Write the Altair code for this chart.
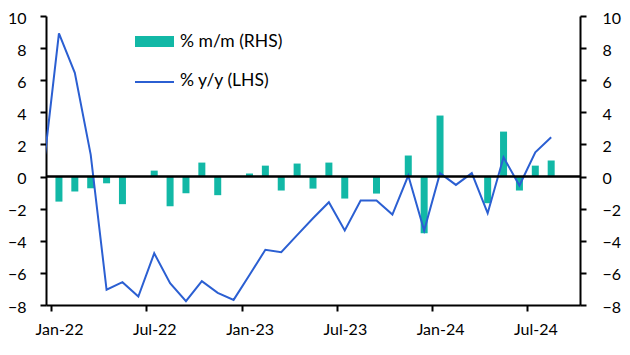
import altair as alt
import pandas as pd

months = ["Jan-22","Feb-22","Mar-22","Apr-22","May-22","Jun-22","Jul-22","Aug-22","Sep-22","Oct-22","Nov-22","Dec-22",
          "Jan-23","Feb-23","Mar-23","Apr-23","May-23","Jun-23","Jul-23","Aug-23","Sep-23","Oct-23","Nov-23","Dec-23",
          "Jan-24","Feb-24","Mar-24","Apr-24","May-24","Jun-24","Jul-24","Aug-24"]
mm = [-1.56, -0.93, -0.73, -0.42, -1.72, 0.0, 0.37, -1.85, -1.04, 0.87, -1.16, 0.0,
      0.19, 0.68, -0.87, 0.81, -0.75, 0.87, -1.37, 0.0, -1.06, 0.0, 1.31, -3.53,
      3.8, 0.0, 0.0, -1.66, 2.8, -0.87, 0.68, 1.0]
yy_prev = 0.3  # Dec-21
yy = [8.92, 6.46, 1.37, -7.05, -6.58, -7.47, -4.78, -6.64, -7.76, -6.52, -7.24, -7.68,
      -6.13, -4.56, -4.71, -3.65, -2.6, -1.6, -3.36, -1.49, -1.49, -2.37, 0.06, -3.36,
      0.21, -0.52, 0.21, -2.28, 1.2, -0.56, 1.51, 2.45]
tick_labels = ["Jan-22", "Jul-22", "Jan-23", "Jul-23", "Jan-24", "Jul-24"]

TEAL = "#12B8A6"
BLUE = "#2B5FD2"
FONT = "Lato"

bars_df = pd.DataFrame({"month": months, "pos": [i + 0.5 for i in range(len(months))], "mm": mm})
line_df = pd.DataFrame({"month": ["Dec-21"] + months,
                        "pos": [-0.5] + [i + 0.5 for i in range(len(months))],
                        "yy": [yy_prev] + yy})

label_arr = "[" + ",".join("'" + t + "'" for t in tick_labels) + "]"
xscale = alt.Scale(domain=[0, 33], nice=False, zero=False)
xaxis = alt.Axis(values=[0, 6, 12, 18, 24, 30], labelExpr=label_arr + "[datum.value/6]",
                 domain=True, ticks=True, grid=False, domainColor="black", domainWidth=2,
                 tickColor="black", tickWidth=2, tickSize=6, labelFontSize=16, labelPadding=10,
                 labelOffset=8, labelFont=FONT, labelColor="black", title=None)
yscale = alt.Scale(domain=[-8, 10], nice=False, zero=False)

def yaxis(orient, pad):
    return alt.Axis(orient=orient, values=list(range(-8, 11, 2)), domain=True, ticks=True,
                    grid=False, domainColor="black", domainWidth=2, tickColor="black",
                    tickWidth=2, tickSize=6, labelFontSize=16, labelPadding=pad,
                    labelOffset=2, labelFont=FONT, labelColor="black", title=None)

bars = alt.Chart(bars_df).mark_bar(size=7, color=TEAL).encode(
    x=alt.X("pos:Q", scale=xscale, axis=xaxis),
    y=alt.Y("mm:Q", scale=yscale, axis=yaxis("right", 16)),
)

line = alt.Chart(line_df).mark_line(color=BLUE, strokeWidth=2, clip=True).encode(
    x=alt.X("pos:Q", scale=xscale, axis=xaxis),
    y=alt.Y("yy:Q", scale=yscale, axis=yaxis("left", 14)),
)

zero = alt.Chart(pd.DataFrame({"z": [0]})).mark_rule(color="black", strokeWidth=2.5).encode(
    y=alt.Y("z:Q", scale=yscale, axis=None),
)

leg_bar = alt.Chart(pd.DataFrame({"t": ["% m/m (RHS)"]})).mark_rect(color=TEAL).encode(
    x=alt.value(89), x2=alt.value(128), y=alt.value(20), y2=alt.value(31))
leg_bar_t = alt.Chart(pd.DataFrame({"t": ["% m/m (RHS)"]})).mark_text(
    align="left", baseline="middle", fontSize=17.5, font=FONT, color="black").encode(
    x=alt.value(134), y=alt.value(26), text="t:N")
leg_line = alt.Chart(pd.DataFrame({"t": ["% y/y (LHS)"]})).mark_rule(color=BLUE, strokeWidth=2).encode(
    x=alt.value(89), x2=alt.value(128), y=alt.value(66))
leg_line_t = alt.Chart(pd.DataFrame({"t": ["% y/y (LHS)"]})).mark_text(
    align="left", baseline="middle", fontSize=17.5, font=FONT, color="black").encode(
    x=alt.value(134), y=alt.value(65), text="t:N")

chart = alt.layer(bars, line, zero, leg_bar, leg_bar_t, leg_line, leg_line_t).resolve_scale(
    y="independent"
).properties(
    width=534, height=289,
    autosize=alt.AutoSizeParams(type="none"),
    padding={"left": 38, "top": 8, "right": 42, "bottom": 42},
).configure_view(stroke=None).configure_axis(domain=True, ticks=True)

chart.save("out.html", embed_options={"renderer": "svg", "actions": False})
